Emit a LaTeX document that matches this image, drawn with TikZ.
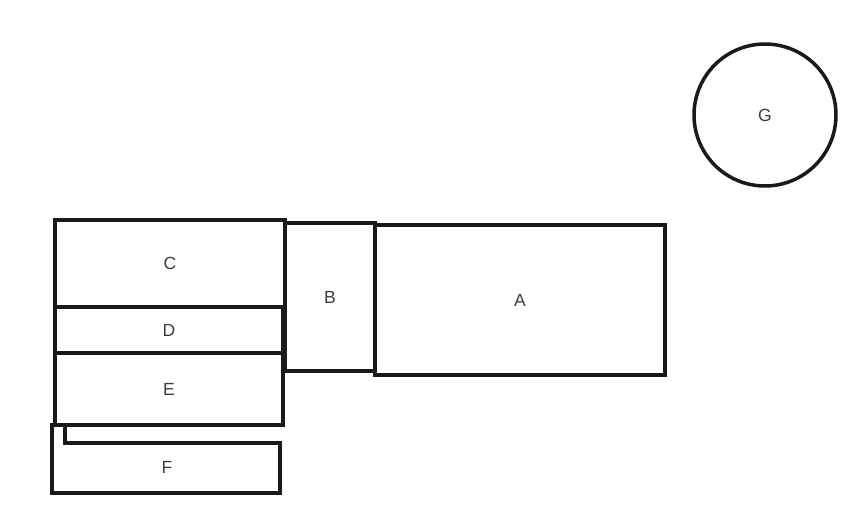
\documentclass[tikz,border=0pt]{standalone}
\usepackage{fontspec}
\setmainfont{Liberation Sans}
\usepackage{tikz}
\usetikzlibrary{positioning}
\definecolor{ink}{HTML}{1A1A1A}
\definecolor{labelgray}{HTML}{3C3C3C}

\begin{document}
\begin{tikzpicture}[x=0.02cm, y=-0.02cm,
    room/.style={rectangle, draw=ink, line width=2pt, inner sep=0pt, font=\fontsize{10}{12}\selectfont, text=labelgray},
    round/.style={circle, draw=ink, line width=2pt, inner sep=0pt, minimum size=2.84cm, font=\fontsize{10}{12}\selectfont, text=labelgray}
]
    \useasboundingbox (0,0) rectangle (863,511);

    % left stack
    \node[room, minimum width=4.6cm, minimum height=1.74cm] (c) at (170,263.5) {C};
    \node[room, minimum width=4.56cm, minimum height=0.92cm] (d) at (169,330) {D};
    \node[room, minimum width=4.56cm, minimum height=1.44cm] (e) at (169,389) {E};

    % F, hooked under E
    \draw[draw=ink, line width=2pt, line join=miter]
        (65,425) -- (52,425) -- (52,493) -- (280,493) -- (280,443) -- (65,443) -- cycle;
    \node[font=\fontsize{10}{12}\selectfont, text=labelgray] (f) at (167,467) {F};

    % B and A
    \node[room, minimum width=1.8cm, minimum height=2.96cm] (b) at (330,297) {B};
    \node[room, minimum width=5.8cm, minimum height=3.0cm] (a) at (520,300) {A};

    % G
    \node[round] (g) at (765,115) {G};
\end{tikzpicture}
\end{document}
